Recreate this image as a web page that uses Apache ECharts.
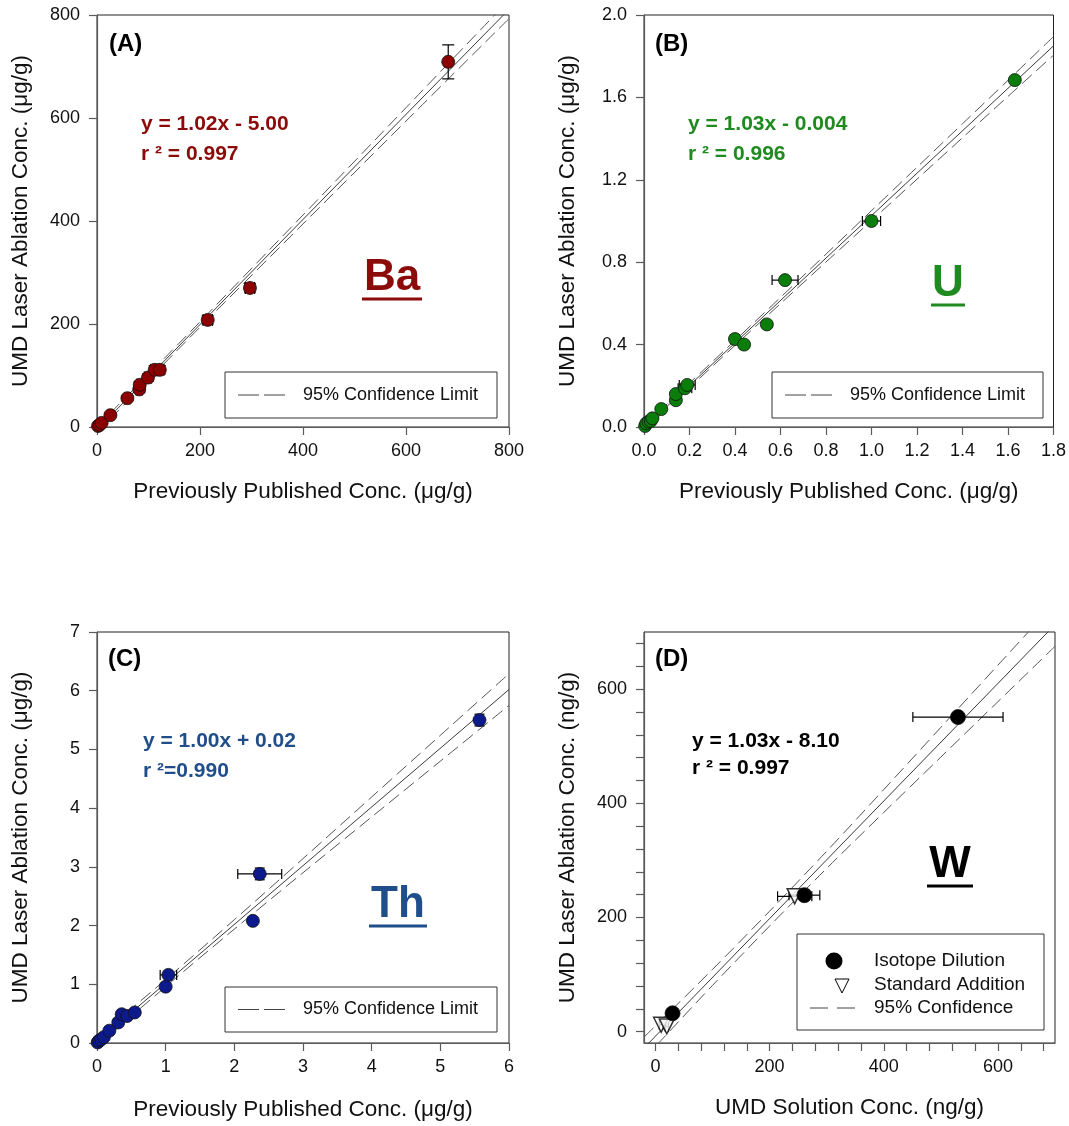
<!DOCTYPE html>
<html>
<head>
<meta charset="utf-8">
<script src="https://cdn.jsdelivr.net/npm/echarts@6/dist/echarts.min.js"></script>
<style>
  html, body { margin: 0; padding: 0; background: #fff; }
  #chart { width: 1069px; height: 1126px; }
</style>
</head>
<body>
<div id="chart"></div>
<script>
// ---- (A) Ba, µg/g ----
const baX    = [2, 5, 9, 26, 59, 82, 83, 99, 112, 122, 215, 297, 682];
const baY    = [2, 4, 8, 23, 56, 73, 82, 96, 111, 111, 208, 270, 709];
const baXErr = [2, 2, 3, 4, 5, 6, 6, 7, 8, 8, 9, 9, 5];
const baYErr = [2, 2, 3, 4, 5, 6, 6, 7, 8, 8, 8, 8, 33];
const baFit  = { slope: 1.02, intercept: -5.00 };
const baBandX    = [0, 130, 200, 400, 600, 800];
const baBandHalf = [6, 5, 5.2, 8.7, 13, 18];

// ---- (B) U, µg/g ----
const uX    = [0.005, 0.01, 0.02, 0.03, 0.037, 0.076, 0.14, 0.14, 0.18, 0.19, 0.40, 0.44, 0.54, 0.62, 1.00, 1.63];
const uY    = [0.005, 0.018, 0.026, 0.03, 0.042, 0.087, 0.13, 0.16, 0.188, 0.204, 0.427, 0.40, 0.498, 0.713, 1.00, 1.684];
const uXErr = [0.005, 0.005, 0.005, 0.005, 0.005, 0.008, 0.01, 0.01, 0.03, 0.035, 0.02, 0.01, 0.01, 0.057, 0.04, 0.01];
const uYErr = [0, 0, 0, 0, 0, 0, 0, 0, 0.01, 0.01, 0.01, 0, 0, 0.01, 0.01, 0.01];
const uFit  = { slope: 1.03, intercept: -0.004 };
const uBandX    = [0, 0.2, 0.4, 0.6, 0.8, 1.0, 1.2, 1.4, 1.6, 1.8];
const uBandHalf = [0.012, 0.011, 0.012, 0.015, 0.019, 0.024, 0.029, 0.034, 0.039, 0.045];

// ---- (C) Th, µg/g ----
const thX    = [0.01, 0.03, 0.06, 0.10, 0.18, 0.31, 0.36, 0.44, 0.55, 1.00, 1.04, 2.27, 2.37, 5.57];
const thY    = [0.01, 0.04, 0.06, 0.10, 0.21, 0.35, 0.49, 0.46, 0.52, 0.96, 1.16, 2.08, 2.88, 5.50];
const thXErr = [0.02, 0.02, 0.02, 0.02, 0.02, 0.02, 0.02, 0.02, 0.02, 0.03, 0.12, 0.03, 0.32, 0.03];
const thYErr = [0, 0, 0, 0, 0, 0, 0, 0, 0, 0, 0, 0, 0.1, 0.1];
const thFit  = { slope: 1.00, intercept: 0.02 };
const thBandX    = [0, 1, 2, 3, 4, 5, 6];
const thBandHalf = [0.07, 0.06, 0.08, 0.12, 0.17, 0.22, 0.27];

// ---- (D) W, ng/g ----
const wIsoX    = [30, 261, 530];
const wIsoY    = [32, 239, 551];
const wIsoXErr = [4, 27, 79];
const wStdX    = [10, 20, 244];
const wStdY    = [12, 9, 237];
const wStdXErr = [3, 3, 30];
const wFit  = { slope: 1.03, intercept: -8.10 };
const wBandX    = [-20, 0, 100, 200, 300, 400, 500, 600, 700];
const wBandHalf = [19, 18, 14, 13, 15, 20, 26, 32, 38];

const wMajorTicks = [0, 200, 400, 600];
const wMinorTicks = [0, 40, 80, 120, 160, 200, 240, 280, 320, 360, 400, 440, 480, 520, 560, 600, 640, 680];

const FONT = 'Arial, "Liberation Sans", sans-serif';
const AXIS_GREY = '#5a5a5a';

function zip(...cols) { return cols[0].map((_, i) => cols.map(c => c[i])); }

function fitLine(fit, x0, x1) {
  return [[x0, fit.slope * x0 + fit.intercept], [x1, fit.slope * x1 + fit.intercept]];
}
function band(fit, xs, half, sign) {
  return xs.map((x, i) => [x, fit.slope * x + fit.intercept + sign * half[i]]);
}

function errorBars(idx, data, cap) {
  return {
    type: 'custom',
    xAxisIndex: idx, yAxisIndex: idx,
    z: 3,
    data: data,
    encode: { x: 0, y: 1 },
    renderItem: function (params, api) {
      const x = api.value(0), y = api.value(1), ex = api.value(2), ey = api.value(3);
      const st = { stroke: '#000', lineWidth: 1.2 };
      const kids = [];
      if (ex > 0) {
        const l = api.coord([x - ex, y]), r = api.coord([x + ex, y]);
        kids.push({ type: 'line', shape: { x1: l[0], y1: l[1], x2: r[0], y2: r[1] }, style: st });
        kids.push({ type: 'line', shape: { x1: l[0], y1: l[1] - cap, x2: l[0], y2: l[1] + cap }, style: st });
        kids.push({ type: 'line', shape: { x1: r[0], y1: r[1] - cap, x2: r[0], y2: r[1] + cap }, style: st });
      }
      if (ey > 0) {
        const b = api.coord([x, y - ey]), t = api.coord([x, y + ey]);
        kids.push({ type: 'line', shape: { x1: b[0], y1: b[1], x2: t[0], y2: t[1] }, style: st });
        kids.push({ type: 'line', shape: { x1: b[0] - cap, y1: b[1], x2: b[0] + cap, y2: b[1] }, style: st });
        kids.push({ type: 'line', shape: { x1: t[0] - cap, y1: t[1], x2: t[0] + cap, y2: t[1] }, style: st });
      }
      return { type: 'group', children: kids };
    }
  };
}

function fitSeries(idx, fit, x0, x1, bx, bh) {
  const base = {
    type: 'line', xAxisIndex: idx, yAxisIndex: idx, symbol: 'none',
    silent: true, z: 1, clip: true, animation: false
  };
  return [
    Object.assign({}, base, { data: fitLine(fit, x0, x1), lineStyle: { color: '#3a3a3a', width: 1 } }),
    Object.assign({}, base, { data: band(fit, bx, bh, 1), smooth: 0.3, lineStyle: { color: '#555', width: 1, type: [13, 6] } }),
    Object.assign({}, base, { data: band(fit, bx, bh, -1), smooth: 0.3, lineStyle: { color: '#555', width: 1, type: [13, 6] } })
  ];
}

function scatter(idx, data, color, size, extra) {
  return Object.assign({
    type: 'scatter', xAxisIndex: idx, yAxisIndex: idx, z: 4,
    data: data, symbolSize: size,
    itemStyle: { color: color, borderColor: '#111', borderWidth: 0.8, opacity: 1 }
  }, extra || {});
}

function valAxis(idx, min, max, interval, name, nameGap, digits, pos) {
  const isX = pos === 'bottom';
  return {
    type: 'value', gridIndex: idx, min: min, max: max, interval: interval,
    position: pos,
    name: name, nameLocation: 'middle', nameGap: nameGap,
    nameTextStyle: { fontFamily: FONT, fontSize: 22.5, color: '#111' },
    axisLine: { show: true, onZero: false, lineStyle: { color: AXIS_GREY, width: 1.2 } },
    axisTick: { show: true, inside: false, length: 8, lineStyle: { color: AXIS_GREY, width: 1.2 } },
    axisLabel: {
      fontFamily: FONT, fontSize: 18, color: '#111', margin: isX ? 15 : 17,
      formatter: v => digits ? v.toFixed(digits) : String(Math.round(v))
    },
    splitLine: { show: false }
  };
}

function wAxis(idx, name, nameGap, pos) {
  const a = valAxis(idx, -20, 700, null, name, nameGap, 0, pos);
  delete a.interval;
  a.axisLabel.customValues = wMajorTicks;
  a.axisTick.customValues = wMinorTicks;
  return a;
}

const gridBase = { show: true, borderColor: '#222', borderWidth: 1, backgroundColor: 'transparent' };
const grids = [
  Object.assign({ left: 97,  top: 15,  width: 412, height: 412 }, gridBase),
  Object.assign({ left: 644, top: 15,  width: 411, height: 412 }, gridBase),
  Object.assign({ left: 97,  top: 632, width: 412, height: 411 }, gridBase),
  Object.assign({ left: 644, top: 632, width: 411, height: 411 }, gridBase)
];

const pubName = 'Previously Published Conc. (\u03bcg/g)';
const ablName = 'UMD Laser Ablation Conc. (\u03bcg/g)';

const xAxes = [
  valAxis(0, 0, 800, 200, pubName, 53, 0, 'bottom'),
  valAxis(1, 0, 1.8, 0.2, pubName, 53, 1, 'bottom'),
  valAxis(2, 0, 6, 1, pubName, 55, 0, 'bottom'),
  wAxis(3, 'UMD Solution Conc. (ng/g)', 53, 'bottom')
];
const yAxes = [
  valAxis(0, 0, 800, 200, ablName, 65, 0, 'left'),
  valAxis(1, 0, 2.0, 0.4, ablName, 65, 1, 'left'),
  valAxis(2, 0, 7, 1, ablName, 65, 0, 'left'),
  wAxis(3, 'UMD Laser Ablation Conc. (ng/g)', 65, 'left')
];

// text, underline and legend decorations
function txt(x, y, text, font, fill, align) {
  return { type: 'text', z: 10, style: { x: x, y: y, text: text, font: font, fill: fill, textAlign: align || 'left', textVerticalAlign: 'middle', verticalAlign: 'middle' } };
}
function seg(x1, y1, x2, y2, stroke, w) {
  return { type: 'line', z: 10, shape: { x1: x1, y1: y1, x2: x2, y2: y2 }, style: { stroke: stroke, lineWidth: w } };
}
function box(x, y, w, h) {
  return { type: 'rect', z: 9, shape: { x: x, y: y, width: w, height: h }, style: { fill: '#fff', stroke: '#333', lineWidth: 1 } };
}
function bigLabel(cx, cy, text, color, ulHalf) {
  return [
    txt(cx, cy, text, 'bold 44px ' + FONT, color, 'center'),
    seg(cx - ulHalf, cy + 21, cx + ulHalf, cy + 21, color, 3)
  ];
}
function confLegend(x, y, w, h) {
  const my = y + h / 2;
  return [
    box(x, y, w, h),
    seg(x + 13, my, x + 34, my, '#444', 1),
    seg(x + 39, my, x + 60, my, '#444', 1),
    txt(x + 78, my, '95% Confidence Limit', '18px ' + FONT, '#111')
  ];
}

const EQ_FONT = 'bold 21px ' + FONT;
const TAG_FONT = 'bold 24px ' + FONT;
const BA_COL = '#8b0a0a', U_COL = '#1f8a1f', TH_COL = '#1f4e8a';

const graphics = [].concat(
  [txt(109, 44, '(A)', TAG_FONT, '#000'),
   txt(141, 124, 'y = 1.02x - 5.00', EQ_FONT, BA_COL),
   txt(141, 154, 'r \u00b2 = 0.997', EQ_FONT, BA_COL)],
  bigLabel(392, 278, 'Ba', BA_COL, 30),
  confLegend(225, 372, 272, 46),

  [txt(655, 44, '(B)', TAG_FONT, '#000'),
   txt(688, 124, 'y = 1.03x - 0.004', EQ_FONT, U_COL),
   txt(688, 154, 'r \u00b2 = 0.996', EQ_FONT, U_COL)],
  bigLabel(948, 284, 'U', U_COL, 17),
  confLegend(772, 372, 271, 46),

  [txt(108, 659, '(C)', TAG_FONT, '#000'),
   txt(143, 741, 'y = 1.00x + 0.02', EQ_FONT, TH_COL),
   txt(143, 771, 'r \u00b2=0.990', EQ_FONT, TH_COL)],
  bigLabel(398, 905, 'Th', TH_COL, 29),
  confLegend(225, 987, 272, 45),

  [txt(655, 659, '(D)', TAG_FONT, '#000'),
   txt(692, 741, 'y = 1.03x - 8.10', EQ_FONT, '#000'),
   txt(692, 768, 'r \u00b2 = 0.997', EQ_FONT, '#000')],
  bigLabel(950, 865, 'W', '#000', 23),
  [box(797, 934, 247, 96),
   { type: 'circle', z: 10, shape: { cx: 834, cy: 961, r: 8.5 }, style: { fill: '#000' } },
   { type: 'polygon', z: 10, shape: { points: [[835, 979], [849, 979], [842, 993]] }, style: { fill: '#fff', stroke: '#000', lineWidth: 1 } },
   seg(810, 1008, 828, 1008, '#444', 1),
   seg(837, 1008, 855, 1008, '#444', 1),
   txt(874, 961, 'Isotope Dilution', '19px ' + FONT, '#111'),
   txt(874, 985, 'Standard Addition', '19px ' + FONT, '#111'),
   txt(874, 1008, '95% Confidence', '19px ' + FONT, '#111')]
);

const series = [].concat(
  fitSeries(0, baFit, 0, 800, baBandX, baBandHalf),
  [errorBars(0, zip(baX, baY, baXErr, baYErr), 6),
   scatter(0, zip(baX, baY), '#8b0000', 13)],

  fitSeries(1, uFit, 0, 1.8, uBandX, uBandHalf),
  [errorBars(1, zip(uX, uY, uXErr, uYErr), 5),
   scatter(1, zip(uX, uY), '#0a7d0a', 13)],

  fitSeries(2, thFit, 0, 6, thBandX, thBandHalf),
  [errorBars(2, zip(thX, thY, thXErr, thYErr), 5),
   scatter(2, zip(thX, thY), '#0d1a8c', 13)],

  fitSeries(3, wFit, -20, 700, wBandX, wBandHalf),
  [errorBars(3, zip(wIsoX, wIsoY, wIsoXErr, wIsoX.map(() => 0)), 5),
   errorBars(3, zip(wStdX, wStdY, wStdXErr, wStdX.map(() => 0)), 5),
   scatter(3, zip(wStdX, wStdY), '#fff', 15, { symbol: 'triangle', symbolRotate: 180, itemStyle: { color: '#fff', borderColor: '#000', borderWidth: 1.5 } }),
   scatter(3, zip(wIsoX, wIsoY), '#000', 15)]
);

const chart = echarts.init(document.getElementById('chart'), null, { renderer: 'canvas' });
chart.setOption({
  animation: false,
  backgroundColor: '#fff',
  textStyle: { fontFamily: FONT },
  grid: grids,
  xAxis: xAxes,
  yAxis: yAxes,
  series: series,
  graphic: { elements: graphics }
});
</script>
</body>
</html>
